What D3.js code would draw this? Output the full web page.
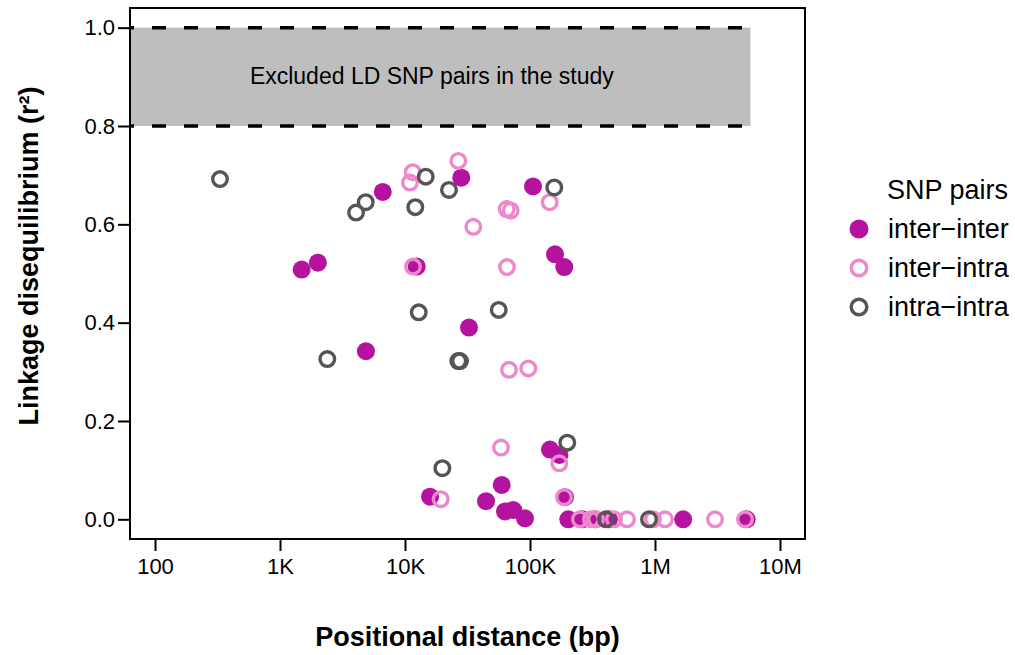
<!DOCTYPE html>
<html lang="en">
<head>
<meta charset="UTF-8">
<title>LD vs positional distance</title>
<script src="https://d3js.org/d3.v7.min.js"></script>
<style>
    body { margin: 0; background: #ffffff; }
    svg { display: block; font-family: "Liberation Sans", Arial, sans-serif; }
</style>
</head>
<body>
<div id="chart"></div>
<script>
// distance (bp), r^2
const interInter = [
    [6640, 0.666], [1490, 0.508], [2010, 0.522], [12400, 0.514], [4870, 0.342],
    [28200, 0.695], [105700, 0.677], [158500, 0.539], [188000, 0.513], [32500, 0.390],
    [15850, 0.046], [144500, 0.142], [171800, 0.131], [59400, 0.070], [44500, 0.037],
    [63100, 0.016], [73500, 0.019], [91200, 0.002], [190500, 0.045],
    [202400, 0], [262000, 0], [330000, 0], [428500, 0], [1680000, 0], [5410000, 0]
];
const interIntra = [
    [11530, 0.706], [10960, 0.685], [26700, 0.729], [143800, 0.645], [65100, 0.631],
    [70100, 0.628], [35200, 0.595], [11590, 0.514], [65500, 0.513], [67900, 0.304],
    [96900, 0.307], [19300, 0.041], [58600, 0.146], [171600, 0.114], [187200, 0.045],
    [251000, 0], [307600, 0], [337300, 0], [469900, 0], [597000, 0],
    [964000, 0], [1200000, 0], [3020000, 0], [5250000, 0]
];
const intraIntra = [
    [331, 0.692], [4850, 0.645], [4060, 0.624], [12090, 0.635], [14650, 0.697],
    [22490, 0.670], [156400, 0.675], [12880, 0.421], [56200, 0.426], [2390, 0.326],
    [26700, 0.322], [27540, 0.322], [19900, 0.104], [198700, 0.156],
    [405500, 0], [895400, 0]
];

const xTicks = [100, 1e3, 1e4, 1e5, 1e6, 1e7];
const xTickLabels = ["100", "1K", "10K", "100K", "1M", "10M"];
const yTicks = [0, 0.2, 0.4, 0.6, 0.8, 1.0];
const excludedBand = [0.8, 1.0];
const excludedXMax = 5.8e6;
const excludedLabelAt = [16400, 0.9];
const groupNames = ["inter\u2212inter", "inter\u2212intra", "intra\u2212intra"];

const width = 1015, height = 655;
const plot = { left: 130, right: 805, top: 8, bottom: 539 };
const colMag = "#b5139f", colPink = "#ee88cc", colGray = "#555555";

const svg = d3.select("#chart").append("svg")
    .attr("width", width).attr("height", height);

const x = d3.scaleLog().domain([Math.pow(10, 1.8), Math.pow(10, 7.2)]).range([plot.left, plot.right]);
const y = d3.scaleLinear().domain([-0.04, 1.04]).range([plot.bottom, plot.top]);

// excluded region
svg.append("rect")
    .attr("x", plot.left).attr("width", x(excludedXMax) - plot.left)
    .attr("y", y(excludedBand[1])).attr("height", y(excludedBand[0]) - y(excludedBand[1]))
    .attr("fill", "#bebebe");

svg.selectAll(".band-line").data(excludedBand).enter().append("line")
    .attr("x1", plot.left).attr("x2", x(excludedXMax))
    .attr("y1", d => y(d)).attr("y2", d => y(d))
    .attr("stroke", "#000").attr("stroke-width", 3.5)
    .attr("stroke-dasharray", "14,18").attr("stroke-dashoffset", 10);

svg.append("text")
    .attr("x", x(excludedLabelAt[0])).attr("y", y(excludedLabelAt[1]))
    .attr("dy", "0.3em").attr("text-anchor", "middle")
    .attr("font-size", 23).text("Excluded LD SNP pairs in the study");

// points
const pts = svg.append("g");
pts.selectAll(".ii").data(interInter).enter().append("circle")
    .attr("cx", d => x(d[0])).attr("cy", d => y(d[1])).attr("r", 9)
    .attr("fill", colMag);
pts.selectAll(".ia").data(interIntra).enter().append("circle")
    .attr("cx", d => x(d[0])).attr("cy", d => y(d[1])).attr("r", 7.3)
    .attr("fill", "none").attr("stroke", colPink).attr("stroke-width", 3.4);
pts.selectAll(".aa").data(intraIntra).enter().append("circle")
    .attr("cx", d => x(d[0])).attr("cy", d => y(d[1])).attr("r", 7.3)
    .attr("fill", "none").attr("stroke", colGray).attr("stroke-width", 3.4);

// axes
const xAxis = svg.append("g").attr("transform", `translate(0,${plot.bottom})`)
    .call(d3.axisBottom(x).tickValues(xTicks).tickFormat((d, i) => xTickLabels[i]).tickSize(12).tickPadding(7));
const yAxis = svg.append("g").attr("transform", `translate(${plot.left},0)`)
    .call(d3.axisLeft(y).tickValues(yTicks).tickFormat(d3.format(".1f")).tickSize(12).tickPadding(3));
[xAxis, yAxis].forEach(a => {
    a.select(".domain").remove();
    a.selectAll(".tick line").attr("stroke", "#000").attr("stroke-width", 2);
    a.selectAll(".tick text").attr("fill", "#000").attr("font-size", 22)
        .attr("font-family", "Liberation Sans, Arial, sans-serif");
});

svg.append("rect")
    .attr("x", plot.left).attr("y", plot.top)
    .attr("width", plot.right - plot.left).attr("height", plot.bottom - plot.top)
    .attr("fill", "none").attr("stroke", "#000").attr("stroke-width", 2);

svg.append("text")
    .attr("x", (plot.left + plot.right) / 2).attr("y", 646)
    .attr("text-anchor", "middle").attr("font-size", 27).attr("font-weight", "bold")
    .text("Positional distance (bp)");

svg.append("text")
    .attr("transform", "translate(38,256) rotate(-90)")
    .attr("text-anchor", "middle").attr("font-size", 27).attr("font-weight", "bold")
    .text("Linkage disequilibrium (r\u00b2)");

// legend
const legend = svg.append("g").attr("transform", "translate(859,0)");
legend.append("text").attr("x", 28).attr("y", 199)
    .attr("font-size", 27).text("SNP pairs");
const legendY = [229, 268, 307];
legend.selectAll(".lab").data(groupNames).enter().append("text")
    .attr("x", 29).attr("y", (d, i) => legendY[i]).attr("dy", "0.35em")
    .attr("font-size", 27).text(d => d);
legend.append("circle").attr("cx", 0).attr("cy", legendY[0]).attr("r", 9.5).attr("fill", colMag);
legend.append("circle").attr("cx", 0).attr("cy", legendY[1]).attr("r", 7.8)
    .attr("fill", "none").attr("stroke", colPink).attr("stroke-width", 3.4);
legend.append("circle").attr("cx", 0).attr("cy", legendY[2]).attr("r", 7.8)
    .attr("fill", "none").attr("stroke", colGray).attr("stroke-width", 3.4);
</script>
</body>
</html>
